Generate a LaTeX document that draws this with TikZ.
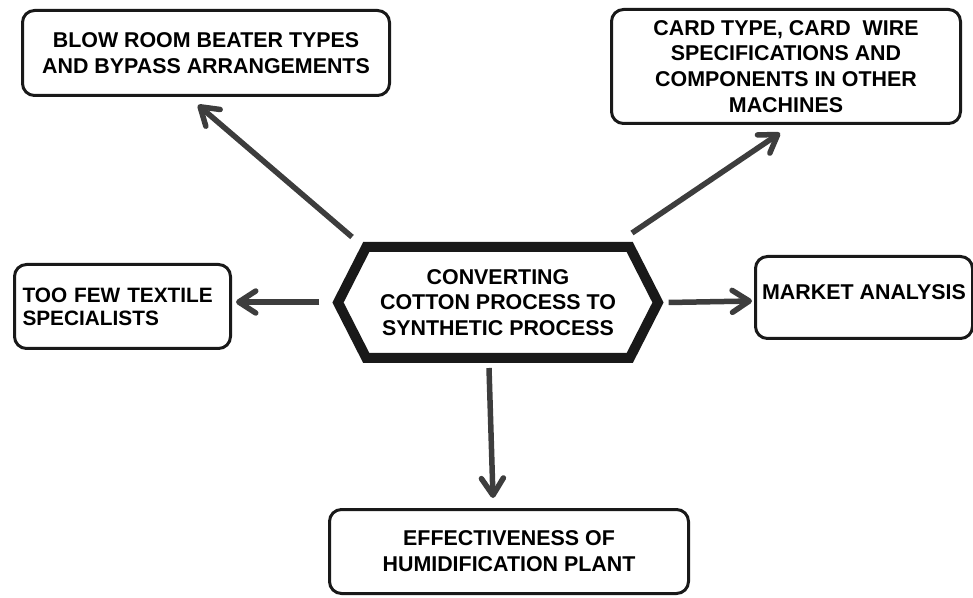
\documentclass[tikz,border=0pt]{standalone}
\usepackage{fontspec}
\setmainfont{Liberation Sans}
\usetikzlibrary{arrows.meta,shapes.symbols}

\begin{document}
\begin{tikzpicture}[x=1pt, y=1pt,
    font=\fontsize{21.4}{25.8}\selectfont\bfseries,
    box/.style={draw=black!90, line width=3pt, rounded corners=12pt, align=center, inner sep=0pt},
    arr/.style={draw=black!76, line width=5.5pt, -{Straight Barb[length=17pt,width=22pt,round]}}]
    \useasboundingbox (0,0) rectangle (973,597);
    \node[signal, signal to=west and east, signal pointer angle=126, draw=black!90, line width=10pt,
          minimum width=320pt, minimum height=111pt, inner sep=0pt, align=center] (hex) at (498,294.5)
          {CONVERTING\\COTTON PROCESS TO\\SYNTHETIC PROCESS};
    \node[box, minimum width=367pt, minimum height=85pt] (blow) at (206,544)
          {BLOW ROOM BEATER TYPES\\AND BYPASS ARRANGEMENTS};
    \node[box, minimum width=349pt, minimum height=114pt] (card) at (786,530.5)
          {CARD TYPE, CARD~ WIRE\\SPECIFICATIONS AND\\COMPONENTS IN OTHER\\MACHINES};
    \node[box, minimum width=216pt, minimum height=84pt, align=left, text width=200pt,
          font=\fontsize{20.8}{23}\selectfont\bfseries] (few) at (122.5,290.5)
          {TOO FEW TEXTILE\\SPECIALISTS};
    \node[box, minimum width=217pt, minimum height=82pt, text depth=10pt] (market) at (864,299.5)
          {MARKET ANALYSIS};
    \node[box, minimum width=359pt, minimum height=84pt] (humid) at (509,45.5)
          {EFFECTIVENESS OF\\HUMIDIFICATION PLANT};
    \draw[arr] ([xshift=-146pt,yshift=5pt]hex.north) -- ([xshift=-8pt,yshift=-8pt]blow.south);
    \draw[arr] ([xshift=134pt,yshift=9pt]hex.north) -- ([xshift=-6pt,yshift=-8pt]card.south);
    \draw[arr] ([xshift=-13pt,yshift=0.5pt]hex.west) -- ([xshift=4pt,yshift=4.5pt]few.east);
    \draw[arr] ([xshift=5pt]hex.east) -- ([xshift=-2pt,yshift=-3.5pt]market.west);
    \draw[arr] ([xshift=-9pt,yshift=-5pt]hex.south) -- ([xshift=-16pt,yshift=10pt]humid.north);
\end{tikzpicture}
\end{document}
